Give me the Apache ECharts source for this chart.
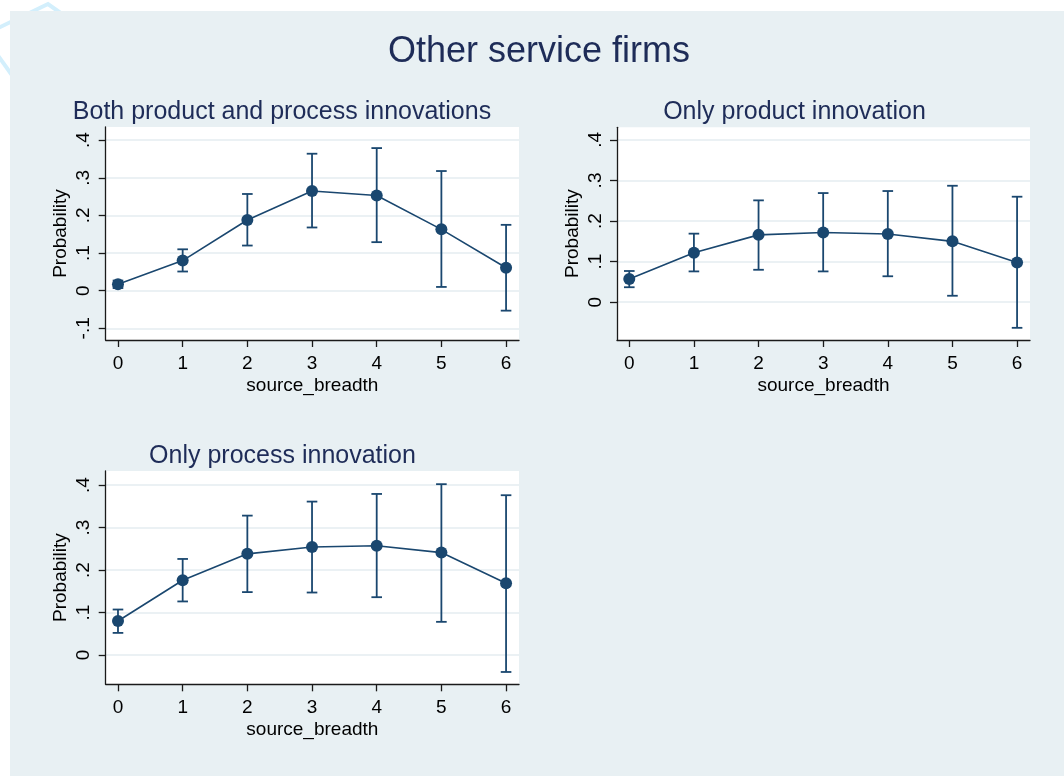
<!DOCTYPE html>
<html>
<head>
<meta charset="utf-8">
<script src="https://cdn.jsdelivr.net/npm/echarts@6/dist/echarts.min.js"></script>
<style>
  html, body { margin: 0; padding: 0; background: #ffffff; }
  #chart { width: 1064px; height: 776px; }
</style>
</head>
<body>
<div id="chart"></div>
<script>
// Predicted probability of innovating by number of information sources used
const sourceBreadth = [0, 1, 2, 3, 4, 5, 6];

const bothEst = [0.017, 0.080, 0.188, 0.265, 0.253, 0.163, 0.061];
const bothLo  = [0.007, 0.051, 0.120, 0.168, 0.129, 0.010, -0.053];
const bothHi  = [0.027, 0.110, 0.257, 0.364, 0.379, 0.318, 0.175];

const productEst = [0.057, 0.122, 0.166, 0.172, 0.168, 0.150, 0.098];
const productLo  = [0.037, 0.076, 0.080, 0.076, 0.064, 0.016, -0.063];
const productHi  = [0.077, 0.169, 0.251, 0.269, 0.274, 0.287, 0.260];

const processEst = [0.080, 0.176, 0.238, 0.254, 0.257, 0.241, 0.169];
const processLo  = [0.052, 0.126, 0.148, 0.147, 0.136, 0.078, -0.040];
const processHi  = [0.107, 0.226, 0.328, 0.361, 0.379, 0.402, 0.376];

const xTicks = [0, 1, 2, 3, 4, 5, 6];
const yTicksBoth = [-0.1, 0, 0.1, 0.2, 0.3, 0.4];
const yTicksOther = [0, 0.1, 0.2, 0.3, 0.4];

const mainTitle = 'Other service firms';
const panelTitles = ['Both product and process innovations', 'Only product innovation', 'Only process innovation'];
const xName = 'source_breadth';
const yName = 'Probability';

const FONT = '"Liberation Sans", Arial, sans-serif';
const NAVY = '#1a476f';
const TITLE_COLOR = '#1e2c58';
const AXIS_COLOR = '#1a1a1a';

const panels = [
  { est: bothEst, lo: bothLo, hi: bothHi, yTicks: yTicksBoth, yMin: -0.131, yMax: 0.435,
    grid: { left: 105.7, top: 127, width: 413.3, height: 213 }, titleX: 282, titleTop: 100 },
  { est: productEst, lo: productLo, hi: productHi, yTicks: yTicksOther, yMin: -0.093, yMax: 0.431,
    grid: { left: 617, top: 127.3, width: 413, height: 212.7 }, titleX: 794.5, titleTop: 100 },
  { est: processEst, lo: processLo, hi: processHi, yTicks: yTicksOther, yMin: -0.069, yMax: 0.433,
    grid: { left: 105.7, top: 471, width: 413.3, height: 213.3 }, titleX: 282.5, titleTop: 444 }
];

function fmtProb(v) {
  if (Math.abs(v) < 1e-9) return '0';
  return String(+v.toFixed(2)).replace(/^(-?)0\./, '$1.');
}

const grids = [], xAxes = [], yAxes = [], series = [];
const titles = [{
  text: mainTitle, left: 539, top: 34, textAlign: 'center', padding: 0,
  textStyle: { fontFamily: FONT, fontSize: 36, fontWeight: 'normal', color: TITLE_COLOR }
}];

panels.forEach((p, i) => {
  grids.push(Object.assign({ show: true, backgroundColor: '#ffffff', borderWidth: 0 }, p.grid));
  titles.push({
    text: panelTitles[i], left: p.titleX, top: p.titleTop, textAlign: 'center', padding: 0,
    textStyle: { fontFamily: FONT, fontSize: 25, fontWeight: 'normal', color: TITLE_COLOR }
  });
  xAxes.push({
    type: 'value', gridIndex: i, min: -0.19, max: 6.2,
    name: xName, nameLocation: 'middle', nameGap: 36,
    nameTextStyle: { fontFamily: FONT, fontSize: 19, color: '#000' },
    axisLine: { show: true, onZero: false, lineStyle: { color: AXIS_COLOR, width: 1.3 } },
    axisTick: { show: true, length: 7, customValues: xTicks, lineStyle: { color: AXIS_COLOR, width: 1.3 } },
    axisLabel: { customValues: xTicks, margin: 14, fontFamily: FONT, fontSize: 19, color: '#000',
                 formatter: v => String(v) },
    splitLine: { show: false }
  });
  yAxes.push({
    type: 'value', gridIndex: i, min: p.yMin, max: p.yMax,
    name: yName, nameLocation: 'middle', nameGap: 35,
    nameTextStyle: { fontFamily: FONT, fontSize: 19, color: '#000' },
    axisLine: { show: true, onZero: false, lineStyle: { color: AXIS_COLOR, width: 1.3 } },
    axisTick: { show: true, length: 7, customValues: p.yTicks, lineStyle: { color: AXIS_COLOR, width: 1.3 } },
    axisLabel: { customValues: p.yTicks, rotate: 90, margin: 12, fontFamily: FONT, fontSize: 19, color: '#000',
                 formatter: fmtProb },
    splitLine: { show: true, lineStyle: { color: '#e4edf0', width: 1.6 } }
  });

  // 95% confidence intervals
  series.push({
    type: 'custom', xAxisIndex: i, yAxisIndex: i, z: 2,
    data: sourceBreadth.map((x, k) => [x, p.lo[k], p.hi[k]]),
    renderItem: (params, api) => {
      const lo = api.coord([api.value(0), api.value(1)]);
      const hi = api.coord([api.value(0), api.value(2)]);
      const w = 5.3;
      const style = { stroke: NAVY, lineWidth: 1.8, fill: null };
      return {
        type: 'group',
        children: [
          { type: 'line', shape: { x1: lo[0], y1: lo[1], x2: hi[0], y2: hi[1] }, style },
          { type: 'line', shape: { x1: hi[0] - w, y1: hi[1], x2: hi[0] + w, y2: hi[1] }, style },
          { type: 'line', shape: { x1: lo[0] - w, y1: lo[1], x2: lo[0] + w, y2: lo[1] }, style }
        ]
      };
    }
  });
  // point estimates
  series.push({
    type: 'line', xAxisIndex: i, yAxisIndex: i, z: 3,
    data: sourceBreadth.map((x, k) => [x, p.est[k]]),
    symbol: 'circle', symbolSize: 12,
    itemStyle: { color: NAVY },
    lineStyle: { color: NAVY, width: 1.6 },
    animation: false
  });
});

const chart = echarts.init(document.getElementById('chart'), null, { renderer: 'canvas' });
chart.setOption({
  backgroundColor: '#ffffff',
  animation: false,
  graphic: [
    { type: 'polyline', z: -20, silent: true,
      shape: { points: [[-6, 30], [48, 4], [72, 21]] },
      style: { stroke: '#d3effc', lineWidth: 4, fill: null } },
    { type: 'polyline', z: -20, silent: true,
      shape: { points: [[-6, 50], [14, 78]] },
      style: { stroke: '#d3effc', lineWidth: 4, fill: null } },
    { type: 'rect', z: -10, silent: true,
      shape: { x: 10, y: 11, width: 1054, height: 765 },
      style: { fill: '#e8f0f3' } }
  ],
  title: titles,
  grid: grids,
  xAxis: xAxes,
  yAxis: yAxes,
  series: series
});
</script>
</body>
</html>
